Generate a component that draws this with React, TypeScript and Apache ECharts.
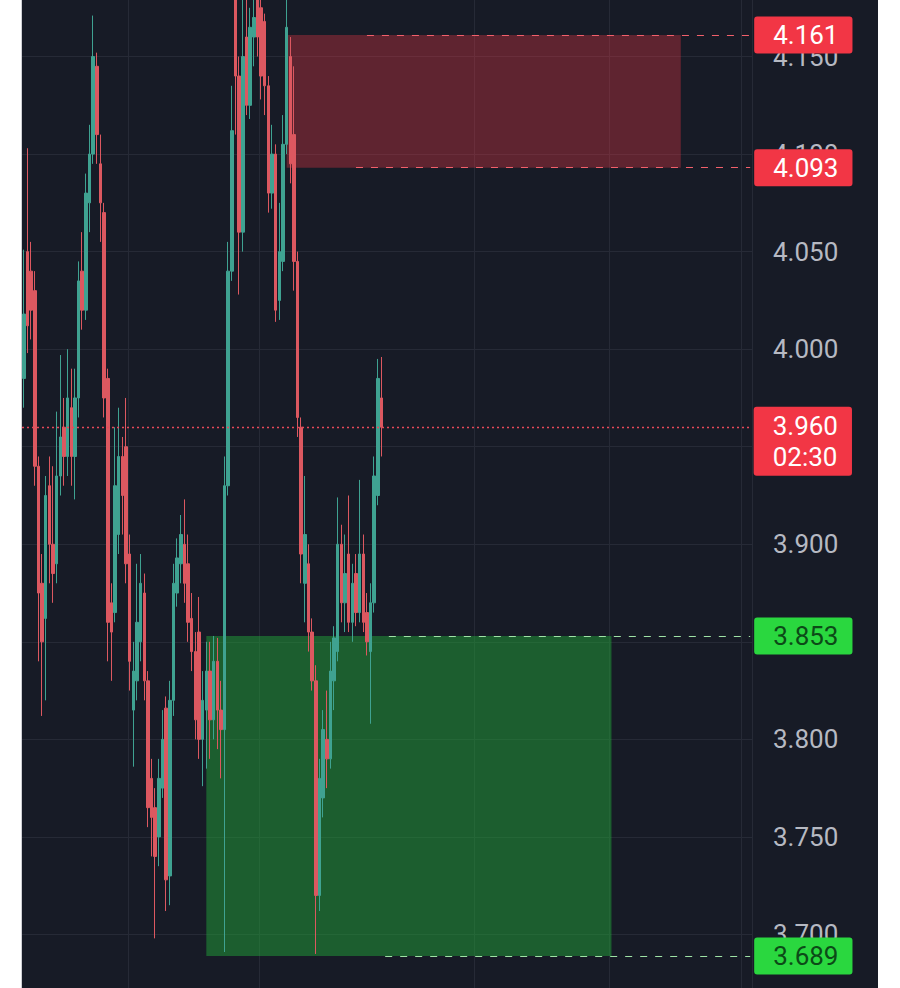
import React, { useEffect, useRef } from 'react';
import * as echarts from 'echarts';

// ---- data ----
const slotCount = 200;
const categories: string[] = Array.from({ length: slotCount }, (_, i) => String(i));

const opens = [
  3.985, 4.050, 4.040, 4.030, 3.940, 3.880, 3.862, 3.930, 3.900, 3.890,
  3.935, 3.960, 3.945, 3.970, 3.945, 3.975, 4.040, 4.020, 4.075, 4.100,
  4.145, 4.095, 4.070, 3.985, 3.870, 3.865, 3.905, 3.945, 3.950, 3.895,
  3.815, 3.830, 3.850, 3.875, 3.830, 3.780, 3.765, 3.750, 3.775, 3.816,
  3.730, 3.820, 3.875, 3.890, 3.900, 3.890, 3.862, 3.845, 3.855, 3.800,
  3.815, 3.835, 3.810, 3.840, 3.815, 3.805, 3.930, 4.040, 4.185, 4.140,
  4.060, 4.160, 4.125, 4.160, 4.185, 4.175, 4.168, 4.135, 4.080, 4.100,
  4.025, 4.045, 4.105, 4.150, 4.110, 4.045, 3.960, 3.880, 3.890, 3.855,
  3.830, 3.720, 3.770, 3.800, 3.790, 3.830, 3.845, 3.900, 3.870, 3.895,
  3.860, 3.885, 3.865, 3.895, 3.865, 3.845, 3.870, 3.925, 3.975,
];
const closes = [
  4.018, 4.012, 4.020, 3.940, 3.875, 3.850, 3.925, 3.900, 3.885, 3.935,
  3.955, 3.945, 3.975, 3.945, 3.975, 4.035, 4.020, 4.080, 4.100, 4.150,
  4.110, 4.075, 3.975, 3.860, 3.855, 3.930, 3.945, 3.925, 3.890, 3.840,
  3.835, 3.860, 3.880, 3.830, 3.765, 3.760, 3.740, 3.780, 3.800, 3.728,
  3.820, 3.880, 3.893, 3.905, 3.880, 3.860, 3.845, 3.810, 3.800, 3.820,
  3.835, 3.810, 3.840, 3.815, 3.805, 3.930, 4.040, 4.112, 4.140, 4.060,
  4.150, 4.125, 4.165, 4.170, 4.160, 4.140, 4.135, 4.080, 4.100, 4.020,
  4.050, 4.105, 4.165, 4.095, 4.045, 3.965, 3.895, 3.905, 3.855, 3.830,
  3.720, 3.780, 3.805, 3.790, 3.835, 3.852, 3.900, 3.870, 3.885, 3.860,
  3.880, 3.865, 3.895, 3.860, 3.850, 3.870, 3.935, 3.985, 3.960,
];
const lows = [
  3.970, 3.998, 4.005, 3.930, 3.840, 3.812, 3.820, 3.880, 3.870, 3.880,
  3.925, 3.930, 3.935, 3.930, 3.923, 3.965, 4.010, 4.015, 4.060, 4.095,
  4.095, 4.055, 3.965, 3.840, 3.830, 3.860, 3.895, 3.905, 3.880, 3.825,
  3.786, 3.820, 3.840, 3.820, 3.755, 3.740, 3.698, 3.735, 3.770, 3.712,
  3.715, 3.812, 3.868, 3.880, 3.870, 3.850, 3.835, 3.800, 3.790, 3.776,
  3.785, 3.790, 3.800, 3.795, 3.780, 3.691, 3.925, 4.035, 4.110, 4.028,
  4.050, 4.120, 4.118, 4.145, 4.150, 4.128, 4.120, 4.070, 4.072, 4.014,
  4.015, 4.040, 4.100, 4.085, 4.030, 3.955, 3.880, 3.860, 3.845, 3.825,
  3.690, 3.712, 3.760, 3.775, 3.785, 3.815, 3.840, 3.860, 3.855, 3.855,
  3.850, 3.858, 3.860, 3.855, 3.843, 3.808, 3.865, 3.920, 3.945,
];
const highs = [
  4.051, 4.103, 4.055, 4.040, 3.945, 3.895, 3.935, 3.945, 3.940, 3.968,
  3.997, 3.975, 4.000, 3.990, 3.990, 4.045, 4.060, 4.090, 4.115, 4.171,
  4.152, 4.110, 4.075, 3.990, 3.880, 3.960, 3.970, 3.955, 3.975, 3.905,
  3.850, 3.890, 3.895, 3.885, 3.835, 3.790, 3.775, 3.790, 3.815, 3.822,
  3.830, 3.890, 3.903, 3.915, 3.923, 3.905, 3.875, 3.855, 3.873, 3.835,
  3.850, 3.850, 3.853, 3.852, 3.830, 3.945, 4.055, 4.135, 4.200, 4.150,
  4.180, 4.185, 4.175, 4.190, 4.200, 4.190, 4.172, 4.140, 4.115, 4.105,
  4.075, 4.120, 4.185, 4.160, 4.145, 4.050, 3.965, 3.935, 3.900, 3.862,
  3.838, 3.790, 3.815, 3.825, 3.850, 3.858, 3.924, 3.910, 3.905, 3.925,
  3.890, 3.895, 3.933, 3.905, 3.875, 3.880, 3.945, 3.995, 3.996,
];

// price labels that the axis shows (3.850 / 3.950 sit fully behind the level boxes)
const yTickLabels = [3.7, 3.75, 3.8, 3.9, 4.0, 4.05, 4.1, 4.15];
const timeGridSlots = [29, 65, 124, 161, 197];

const lastPrice = 3.96;
const countdown = '02:30';
const sellZone = { top: 4.161, bottom: 4.093, from: 72, to: 180 };
const buyZone = { top: 3.853, bottom: 3.689, from: 50, to: 161 };
const levelLines = [
  { value: 4.161, from: 94, kind: 'sell' },
  { value: 4.093, from: 91, kind: 'sell' },
  { value: 3.853, from: 100, kind: 'buy' },
  { value: 3.689, from: 99, kind: 'buy' },
];

const RED = '#f23645';
const GREEN_BOX = '#2ad73f';

export default function App() {
  const ref = useRef<HTMLDivElement>(null);
  useEffect(() => {
    document.body.style.margin = '0';
    const chart = echarts.init(ref.current!, null, { renderer: 'svg' });
    const candles = opens.map((o, i) => [o, closes[i], lows[i], highs[i]]);
    const lastIdx = slotCount - 1;

    const boxLabel = (kind: string, v: number) => ({
      show: true,
      position: 'end',
      distance: 4,
      formatter: () => v.toFixed(3),
      backgroundColor: kind === 'sell' ? RED : GREEN_BOX,
      color: kind === 'sell' ? '#ffffff' : '#0c4a17',
      fontSize: 26,
      fontFamily: 'Roboto',
      lineHeight: 29,
      padding: [4, 14, 4, 19],
      borderRadius: 3,
    });

    const markLineData: any[] = levelLines.map((l) => [
      {
        coord: [l.from, l.value],
        lineStyle: {
          color: l.kind === 'sell' ? '#f2606b' : '#9fe3a6',
          type: [7, 8],
          width: 1.2,
        },
        label: boxLabel(l.kind, l.value),
      },
      { coord: [lastIdx, l.value] },
    ]);
    markLineData.push({
      yAxis: lastPrice,
      lineStyle: { color: '#e8485a', type: [2, 3], width: 1.4 },
      label: { show: false },
    });

    chart.setOption({
      animation: false,
      backgroundColor: '#171b26',
      grid: { left: 0, right: 126, top: 0, bottom: 0, containLabel: false },
      xAxis: {
        type: 'category',
        data: categories,
        boundaryGap: true,
        axisLine: { show: false },
        axisTick: { show: false },
        axisLabel: { show: false },
        splitLine: {
          show: true,
          interval: (idx: number) => timeGridSlots.includes(idx),
          lineStyle: { color: '#262a36', width: 1 },
        },
      },
      yAxis: {
        type: 'value',
        position: 'right',
        min: 3.65,
        max: 4.2,
        interval: 0.05,
        axisLine: { show: false },
        axisTick: { show: false },
        splitLine: { show: true, lineStyle: { color: '#262a36', width: 1 } },
        axisLabel: {
          show: true,
          margin: 21,
          showMinLabel: false,
          showMaxLabel: false,
          color: '#b6b9c2',
          fontSize: 26,
          fontFamily: 'Roboto',
          formatter: (v: number) => (yTickLabels.some((t) => Math.abs(t - v) < 1e-6) ? v.toFixed(3) : ''),
        },
      },
      series: [
        {
          type: 'candlestick',
          data: candles,
          barWidth: 3,
          z: 2,
          silent: true,
          itemStyle: {
            color: '#3fa291',
            color0: '#dc5860',
            borderColor: '#3fa291',
            borderColor0: '#dc5860',
            borderWidth: 1,
          },
        },
        {
          type: 'line',
          data: [],
          z: 3,
          silent: true,
          symbol: 'none',
          markArea: {
            silent: true,
            data: [
              [
                { coord: [sellZone.from, sellZone.top], itemStyle: { color: 'rgba(242,54,69,0.33)' } },
                { coord: [sellZone.to, sellZone.bottom] },
              ],
              [
                { coord: [buyZone.from, buyZone.top], itemStyle: { color: 'rgba(34,171,57,0.47)' } },
                { coord: [buyZone.to, buyZone.bottom] },
              ],
            ],
          },
          markLine: {
            silent: true,
            symbol: ['none', 'none'],
            data: markLineData,
          },
          markPoint: {
            silent: true,
            symbol: 'rect',
            symbolSize: 1,
            itemStyle: { color: 'rgba(0,0,0,0)' },
            data: [
              {
                coord: [lastIdx, lastPrice],
                label: {
                  show: true,
                  position: [4, -20],
                  formatter: () => lastPrice.toFixed(3) + '\n' + countdown,
                  backgroundColor: RED,
                  color: '#ffffff',
                  fontSize: 26,
                  fontFamily: 'Roboto',
                  lineHeight: 31,
                  align: 'left',
                  verticalAlign: 'top',
                  padding: [4, 14, 3, 19],
                  borderRadius: 3,
                },
              },
            ],
          },
        },
      ],
    });
    return () => chart.dispose();
  }, []);

  // The chart spans 3.65 – 4.20; it is taller than the window and shifted up,
  // so that the visible band runs from about 3.673 to 4.179 as in the reference.
  return (
    <div style={{ position: 'relative', width: 900, height: 988, background: '#ffffff', overflow: 'hidden' }}>
      <div style={{ position: 'absolute', left: 21, top: 0, width: 1, height: 988, background: '#cfd0d4' }} />
      <div ref={ref} style={{ position: 'absolute', left: 22, top: -41, width: 856, height: 1073 }} />
    </div>
  );
}
